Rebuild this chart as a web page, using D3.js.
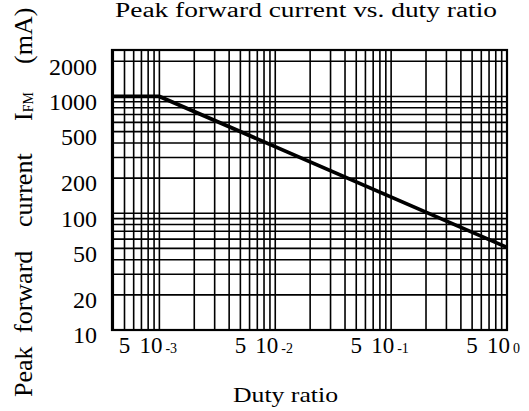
<!DOCTYPE html>
<html>
<head>
<meta charset="utf-8">
<script src="https://cdn.jsdelivr.net/npm/d3@7"></script>
<style>
    body { margin: 0; background: #fff; }
    svg { display: block; font-family: "Liberation Serif", "Times New Roman", serif; }
</style>
</head>
<body>
<div id="chart"></div>
<script>
const width = 529;
const height = 411;
const plot = {left: 112, right: 507, top: 50, bottom: 330};

// curve: flat at 1000 mA up to duty 1e-3, then falls to ~51 mA at duty 1
const dutyRatio = [0.00039, 0.001, 1];
const peakCurrent = [1000, 1000, 51];

const yTickValues = [10, 20, 50, 100, 200, 500, 1000, 2000];
const xFiveValues = [5e-4, 5e-3, 5e-2, 5e-1];
const xDecadeValues = [1e-3, 1e-2, 1e-1, 1];
const xDecadeExponents = ["-3", "-2", "-1", "0"];

const svg = d3.select("#chart")
    .append("svg")
    .attr("width", width)
    .attr("height", height);

const x = d3.scaleLog()
    .domain([0.00039, 1])
    .range([plot.left, plot.right]);

const y = d3.scaleLog()
    .domain([10, 2500])
    .range([plot.bottom, plot.top]);

// grid lines (log ticks 1..9 per decade)
svg.append("g")
    .selectAll("line")
    .data(x.ticks())
    .enter()
    .append("line")
    .attr("x1", d => x(d))
    .attr("x2", d => x(d))
    .attr("y1", plot.top)
    .attr("y2", plot.bottom)
    .attr("stroke", "#000")
    .attr("stroke-width", 1.6);

svg.append("g")
    .selectAll("line")
    .data(y.ticks())
    .enter()
    .append("line")
    .attr("x1", plot.left)
    .attr("x2", plot.right)
    .attr("y1", d => y(d))
    .attr("y2", d => y(d))
    .attr("stroke", "#000")
    .attr("stroke-width", 1.6);

// frame
svg.append("rect")
    .attr("x", plot.left)
    .attr("y", plot.top)
    .attr("width", plot.right - plot.left)
    .attr("height", plot.bottom - plot.top)
    .attr("fill", "none")
    .attr("stroke", "#000")
    .attr("stroke-width", 2.2);

// the curve
svg.append("path")
    .datum(d3.zip(dutyRatio, peakCurrent))
    .attr("fill", "none")
    .attr("stroke", "#000")
    .attr("stroke-width", 3.8)
    .attr("d", d3.line()
        .x(d => x(d[0]))
        .y(d => y(d[1]))
    );

// y tick labels
svg.append("g")
    .selectAll("text")
    .data(yTickValues)
    .enter()
    .append("text")
    .attr("x", 97)
    .attr("y", d => y(d) + 5)
    .attr("dy", "0.35em")
    .attr("text-anchor", "end")
    .attr("font-size", 24)
    .text(d => d);

// x tick labels: "5" and "10" with a small exponent at the baseline
const xLabelY = 353;
svg.append("g")
    .selectAll("text")
    .data(xFiveValues)
    .enter()
    .append("text")
    .attr("x", d => x(d))
    .attr("y", xLabelY)
    .attr("text-anchor", "middle")
    .attr("font-size", 23)
    .text("5");

const decade = svg.append("g")
    .selectAll("g")
    .data(xDecadeValues)
    .enter()
    .append("g");

decade.append("text")
    .attr("x", d => x(d) + 3)
    .attr("y", xLabelY)
    .attr("text-anchor", "end")
    .attr("font-size", 23)
    .text("10");

decade.append("text")
    .attr("x", d => x(d) + 6)
    .attr("y", xLabelY)
    .attr("font-size", 14)
    .text((d, i) => xDecadeExponents[i]);

// title
svg.append("text")
    .attr("x", 115)
    .attr("y", 17)
    .attr("font-size", 20)
    .attr("textLength", 382)
    .attr("lengthAdjust", "spacingAndGlyphs")
    .text("Peak  forward  current  vs.  duty  ratio");

// x axis title
svg.append("text")
    .attr("x", 233)
    .attr("y", 402)
    .attr("font-size", 22)
    .attr("textLength", 105)
    .attr("lengthAdjust", "spacingAndGlyphs")
    .text("Duty  ratio");

// y axis title, words spread out as in the scan
const yTitle = svg.append("g")
    .attr("transform", "translate(32,0) rotate(-90)")
    .attr("font-size", 26);

yTitle.append("text").attr("x", -397).text("Peak");
yTitle.append("text").attr("x", -333).text("forward");
yTitle.append("text").attr("x", -227).text("current");
const ifm = yTitle.append("text").attr("x", -121);
ifm.append("tspan").text("I");
ifm.append("tspan")
    .attr("font-size", 14)
    .attr("dy", 1)
    .text("FM");
yTitle.append("text").attr("x", -64).text("(mA)");
</script>
</body>
</html>
